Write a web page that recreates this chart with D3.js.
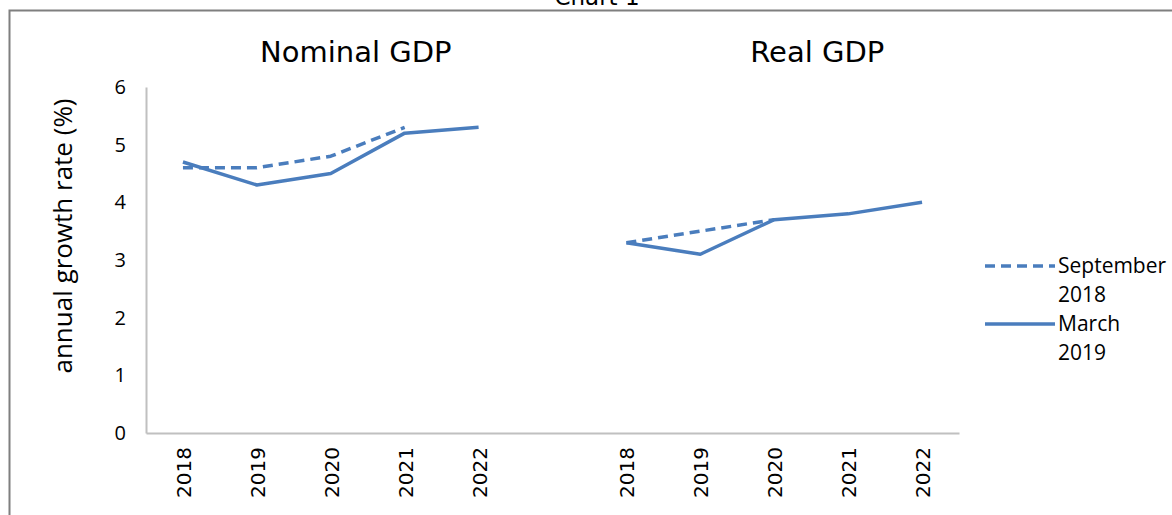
<!DOCTYPE html>
<html>
<head>
<meta charset="utf-8">
<script src="https://cdn.jsdelivr.net/npm/d3@7/dist/d3.min.js"></script>
<style>
  html, body { margin: 0; padding: 0; background: #fff; }
  svg { display: block; }
</style>
</head>
<body>
<script>
// Forecast vintages of GDP growth, by panel
const years = ["2018", "2019", "2020", "2021", "2022"];
const panels = ["Nominal GDP", "Real GDP"];
const nominalSep2018 = [4.6, 4.6, 4.8, 5.3, null];
const nominalMar2019 = [4.7, 4.3, 4.5, 5.2, 5.3];
const realSep2018 = [3.3, 3.5, 3.7, null, null];
const realMar2019 = [3.3, 3.1, 3.7, 3.8, 4.0];
const yTicks = [0, 1, 2, 3, 4, 5, 6];
const seriesNames = ["September 2018", "March 2019"];

const W = 1172, H = 515;
const blue = "#4a7dbd";
const axisGrey = "#c0c0c0";

const svg = d3.select("body").append("svg")
  .attr("width", W).attr("height", H);

// outer frame
svg.append("rect")
  .attr("x", 9.5).attr("y", 10.5)
  .attr("width", W + 20).attr("height", H + 20)
  .attr("fill", "none").attr("stroke", "#7f7f7f").attr("stroke-width", 2);

// chart title (sits on the frame edge)
svg.append("text")
  .attr("x", 597).attr("y", 5)
  .attr("text-anchor", "middle")
  .attr("font-family", "DejaVu Sans, sans-serif")
  .attr("font-size", 23)
  .text("Chart 1");

// categories: nominal years, one spacer slot, real years
const cats = [
  ...years.map(y => "N" + y),
  "gap",
  ...years.map(y => "R" + y)
];

const x = d3.scaleBand().domain(cats).range([146, 959]).paddingInner(0).paddingOuter(0);
const y = d3.scaleLinear().domain([0, 6]).range([433, 87]);
const cx = c => x(c) + x.bandwidth() / 2;

// y axis
const yAxis = svg.append("g")
  .attr("transform", "translate(146,0)")
  .call(d3.axisLeft(y).tickValues(yTicks).tickSize(0).tickPadding(20).tickFormat(d3.format("d")));
yAxis.select(".domain").attr("stroke", axisGrey).attr("stroke-width", 2);
yAxis.selectAll("text")
  .attr("font-family", "Open Sans, sans-serif")
  .attr("font-size", 20)
  .attr("fill", "#000");

// x axis
const xAxis = svg.append("g")
  .attr("transform", "translate(0,433)")
  .call(d3.axisBottom(x).tickValues(cats.filter(c => c !== "gap"))
    .tickSize(0).tickFormat(c => c.slice(1)));
xAxis.select(".domain").attr("stroke", axisGrey).attr("stroke-width", 2);
xAxis.selectAll(".tick text")
  .attr("font-family", "DejaVu Sans, sans-serif")
  .attr("font-size", 20)
  .attr("fill", "#000")
  .attr("text-anchor", "end")
  .attr("dy", null)
  .attr("y", null)
  .attr("dominant-baseline", "central")
  .attr("transform", "translate(1,14) rotate(-90)");

// y axis title
svg.append("text")
  .attr("transform", "translate(62,236) rotate(-90)")
  .attr("text-anchor", "middle")
  .attr("dominant-baseline", "central")
  .attr("font-family", "Open Sans, sans-serif")
  .attr("font-size", 26)
  .text("annual growth rate (%)");

// panel titles
const panelCentres = [cx("N2020") + 25, cx("R2020") + 43];
panels.forEach((p, i) => {
  svg.append("text")
    .attr("x", panelCentres[i]).attr("y", 62)
    .attr("text-anchor", "middle")
    .attr("font-family", "DejaVu Sans, sans-serif")
    .attr("font-size", 29)
    .text(p);
});

// lines
const line = d3.line()
  .defined(d => d.v != null)
  .x(d => cx(d.c))
  .y(d => y(d.v));

function series(prefix, vals) {
  return years.map((yr, i) => ({ c: prefix + yr, v: vals[i] }));
}

const lines = [
  { data: series("N", nominalSep2018), dash: "10,6" },
  { data: series("R", realSep2018), dash: "10,6" },
  { data: series("N", nominalMar2019), dash: null },
  { data: series("R", realMar2019), dash: null }
];

svg.append("g").selectAll("path").data(lines).join("path")
  .attr("d", d => line(d.data))
  .attr("fill", "none")
  .attr("stroke", blue)
  .attr("stroke-width", 3.5)
  .attr("stroke-linejoin", "round")
  .attr("stroke-dasharray", d => d.dash);

// legend
const legend = svg.append("g").attr("transform", "translate(985,0)");
const legendItems = [
  { name: seriesNames[0], dash: "10,6", y: 266 },
  { name: seriesNames[1], dash: null, y: 324 }
];
legendItems.forEach(it => {
  legend.append("line")
    .attr("x1", 0).attr("x2", 70)
    .attr("y1", it.y).attr("y2", it.y)
    .attr("stroke", blue).attr("stroke-width", 3.5)
    .attr("stroke-dasharray", it.dash);
  const parts = it.name.split(" ");
  const t = legend.append("text")
    .attr("x", 73).attr("y", it.y + 7)
    .attr("font-family", "Open Sans, sans-serif")
    .attr("font-size", 21);
  parts.forEach((p, i) => {
    t.append("tspan").attr("x", 73).attr("dy", i === 0 ? 0 : 29).text(p);
  });
});
</script>
</body>
</html>
